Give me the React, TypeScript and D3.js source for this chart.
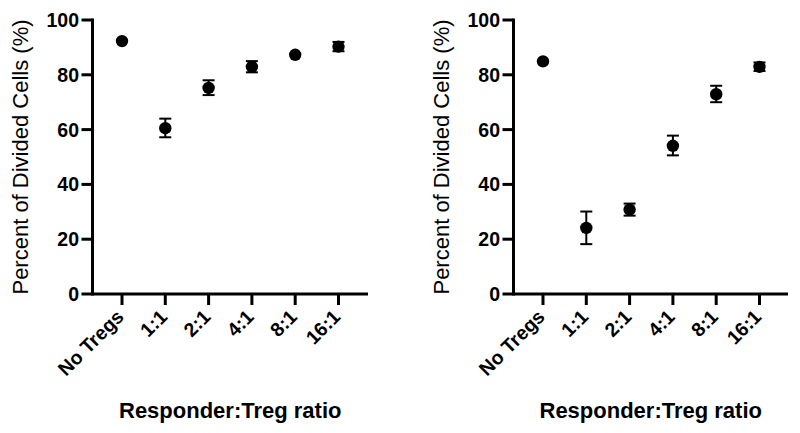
import React, { useEffect, useRef } from "react";
import * as d3 from "d3";

const categories = ["No Tregs", "1:1", "2:1", "4:1", "8:1", "16:1"];
const yTicks = [0, 20, 40, 60, 80, 100];

// left panel: mean, lower, upper
const leftMean = [92.3, 60.5, 75.2, 82.9, 87.3, 90.3];
const leftLow = [92.3, 57.2, 72.6, 80.9, 87.3, 88.6];
const leftHigh = [92.3, 64.0, 78.0, 85.0, 87.3, 92.0];

// right panel
const rightMean = [84.9, 24.1, 30.8, 54.1, 72.9, 82.9];
const rightLow = [84.9, 18.2, 28.6, 50.6, 70.0, 81.4];
const rightHigh = [84.9, 30.1, 33.0, 57.8, 76.0, 84.5];

const FONT = "'Liberation Sans', Arial, Helvetica, sans-serif";

const drawPanel = (
  svg: d3.Selection<SVGSVGElement, unknown, null, undefined>,
  left: number,
  right: number,
  mean: number[],
  low: number[],
  high: number[],
  titleX: number
) => {
  const top = 20;
  const bottom = 294;
  const g = svg.append("g");

  const y = d3.scaleLinear().domain([0, 100]).range([bottom, top]);
  const x = d3
    .scalePoint<string>()
    .domain(categories)
    .range([left + 29.5, left + 29.5 + 43.3 * 5]);

  // y axis
  g.append("line")
    .attr("x1", left)
    .attr("x2", left)
    .attr("y1", top - 1.5)
    .attr("y2", bottom + 1.5)
    .attr("stroke", "#000")
    .attr("stroke-width", 3);

  yTicks.forEach((t) => {
    g.append("line")
      .attr("x1", left - 11)
      .attr("x2", left)
      .attr("y1", y(t))
      .attr("y2", y(t))
      .attr("stroke", "#000")
      .attr("stroke-width", 3);
    g.append("text")
      .attr("x", left - 13.5)
      .attr("y", y(t))
      .attr("dy", "0.36em")
      .attr("text-anchor", "end")
      .style("font-family", FONT)
      .style("font-weight", "bold")
      .style("font-size", "19.5px")
      .text(t);
  });

  // x axis
  g.append("line")
    .attr("x1", left)
    .attr("x2", right)
    .attr("y1", bottom)
    .attr("y2", bottom)
    .attr("stroke", "#000")
    .attr("stroke-width", 3);

  categories.forEach((c) => {
    const cx = x(c)!;
    g.append("line")
      .attr("x1", cx)
      .attr("x2", cx)
      .attr("y1", bottom)
      .attr("y2", bottom + 11)
      .attr("stroke", "#000")
      .attr("stroke-width", 3);
    g.append("text")
      .attr("transform", `translate(${cx + 3},${bottom + 24}) rotate(-45)`)
      .attr("text-anchor", "end")
      .style("font-family", FONT)
      .style("font-weight", "bold")
      .style("font-size", "19.5px")
      .text(c);
  });

  // error bars
  categories.forEach((c, i) => {
    if (high[i] - low[i] < 0.5) return;
    const cx = x(c)!;
    g.append("line")
      .attr("x1", cx)
      .attr("x2", cx)
      .attr("y1", y(low[i]))
      .attr("y2", y(high[i]))
      .attr("stroke", "#000")
      .attr("stroke-width", 2);
    [low[i], high[i]].forEach((v) => {
      g.append("line")
        .attr("x1", cx - 6)
        .attr("x2", cx + 6)
        .attr("y1", y(v))
        .attr("y2", y(v))
        .attr("stroke", "#000")
        .attr("stroke-width", 2);
    });
  });

  // points
  g.selectAll(".pt")
    .data(mean)
    .enter()
    .append("circle")
    .attr("cx", (_d, i) => x(categories[i])!)
    .attr("cy", (d) => y(d))
    .attr("r", 6.2)
    .attr("fill", "#000");

  // axis titles
  g.append("text")
    .attr("transform", `translate(${titleX},${(top + bottom) / 2}) rotate(-90)`)
    .attr("text-anchor", "middle")
    .attr("dy", "0.36em")
    .style("font-family", FONT)
    .style("font-size", "22px")
    .text("Percent of Divided Cells (%)");

  g.append("text")
    .attr("x", (left + right) / 2)
    .attr("y", 418)
    .attr("text-anchor", "middle")
    .style("font-family", FONT)
    .style("font-weight", "bold")
    .style("font-size", "22px")
    .text("Responder:Treg ratio");
};

const App: React.FC = () => {
  const svgRef = useRef<SVGSVGElement>(null);

  useEffect(() => {
    if (!svgRef.current) return;
    const svg = d3.select(svgRef.current);
    svg.selectAll("*").remove();

    drawPanel(svg, 92.5, 368, leftMean, leftLow, leftHigh, 20);
    drawPanel(svg, 513.5, 788, rightMean, rightLow, rightHigh, 441);

    return () => {
      svg.selectAll("*").remove();
    };
  }, []);

  return (
    <svg
      ref={svgRef}
      width={800}
      height={433}
      style={{ position: "absolute", left: 0, top: 0, background: "#fff" }}
    />
  );
};

export default App;
